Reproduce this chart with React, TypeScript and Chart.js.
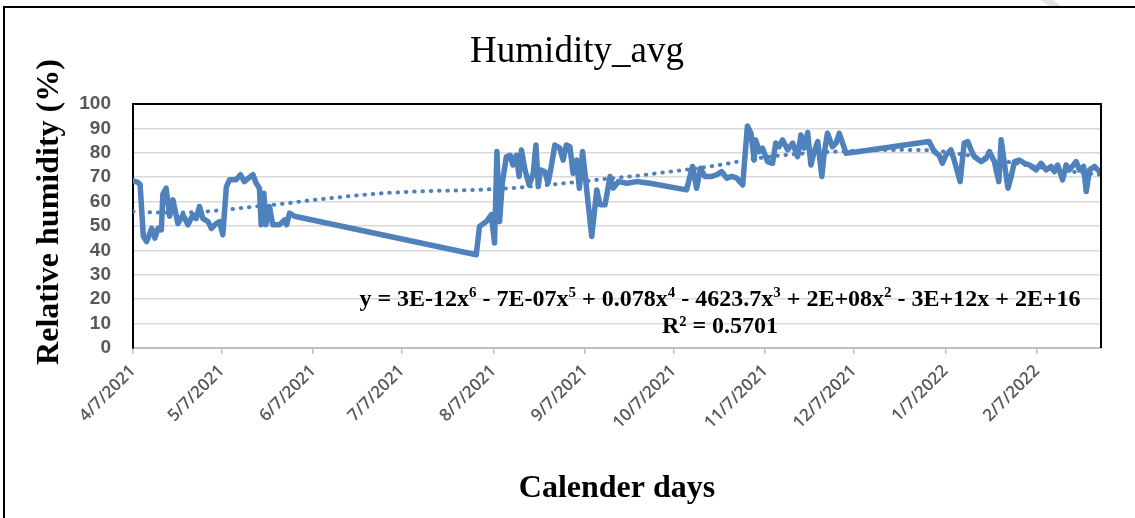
import React, { useEffect, useRef } from "react";
import { Chart, registerables } from "chart.js";

Chart.register(...registerables);

// Days since 4/7/2021
const dayOffsets = [
  0, 1.5, 2.4, 3.5, 4.6, 6.3, 7.4, 8.5, 9.6, 10.1, 11.2, 12.4, 13.5, 15.2, 16.9, 18.6, 20.3, 21.4, 22.5, 23.7,
  25.4, 26.5, 28.2, 29.3, 30.4, 31.6, 32.7, 34.9, 36.4, 37.7, 39, 40.6, 41.7, 42.8, 43.4, 44.3, 45, 46.2, 47.3,
  49.6, 51.3, 52, 53, 54.7, 116.2, 117.3, 119.6, 121.3, 122.4, 123.2, 124.1, 125, 126.4, 127.7, 128.6, 129.8,
  130.7, 131.5, 132.7, 134.1, 135.5, 136.4, 137.2, 137.9, 139.4, 140.5, 141.6, 142.8, 144.5, 145.6, 146.7, 147.9,
  149, 150.2, 151.1, 152.2, 153.6, 155.3, 157, 158.1, 159.8, 160.9, 161.5, 162.6, 164.3, 167.2, 170.5, 175,
  187.4, 189.4, 190.8, 192.1, 193.6, 195.9, 197.6, 199.3, 201, 202.7, 204.4, 206.4, 208, 209.2, 210.3, 210.8,
  212, 213.1, 214.8, 216.5, 217.6, 218.7, 219.9, 221.6, 223.3, 225, 226.1, 227.2, 228.4, 229.5, 230.6, 231.8,
  233.2, 234, 235.1, 236.8, 238, 239.1, 241.4, 245.9, 269.5, 271.2, 272.9, 274, 275.2, 276.9, 278, 280, 281.4,
  282.6, 283.7, 284.8, 287.1, 288.8, 289.9, 291.6, 293.1, 293.9, 295, 296.2, 297.3, 298.4, 300.1, 301.8, 303.5,
  305.7, 307.4, 309.1, 310.8, 311.9, 313, 314.7, 315.9, 317, 319.3, 320.4, 321.8, 322.7, 323.8, 325.5, 326.6, 327.7,
];

const humidity = [
  68.5, 68, 67, 45.7, 43.6, 49, 45, 49, 48.4, 63, 65.5, 54, 60.7, 51, 54.6, 50.5, 54.6, 53, 58, 53,
  51.8, 49, 51, 51.8, 46.4, 66, 69, 69, 71, 68.2, 69.5, 71, 67.5, 65.5, 50.5, 63.4, 50.5, 58, 50.5,
  50.5, 52.5, 50.5, 55.3, 54, 38.2, 49.8, 51.8, 54.6, 43, 80.5, 51.8, 67.5, 78.4, 79, 75, 79,
  70.3, 81.2, 73, 66.8, 71.6, 83.2, 66.2, 73, 72.3, 67.5, 74.4, 83.2, 81.9, 77, 83.2, 82.5,
  71.6, 77, 65.5, 80.5, 64.8, 45.7, 64.8, 58.7, 58.7, 66.2, 70.3, 65.5, 68.2, 67.5, 68.2, 67.5,
  64.8, 74.4, 65.5, 73.7, 70.3, 70.3, 71, 72.3, 69.6, 70.3, 69.6, 66.8, 91, 88, 77, 85.3,
  80.5, 81.9, 76.4, 75.7, 84, 82.5, 85.3, 81.2, 84, 78.4, 87.3, 81.9, 88.3, 75, 80.5, 84.6,
  70.3, 79.8, 88, 82.5, 84, 88, 79.8, 80.5, 84.6, 80.5, 79, 75.7, 79, 81.2, 77, 68.2, 84,
  84.6, 81.2, 78.4, 76.4, 77.7, 80.5, 76.4, 68.2, 85.3, 75.7, 65.5, 70.3, 76.4, 77, 75.7, 75,
  73, 75.7, 73, 74.4, 72.3, 75, 68.9, 75, 73, 76.4, 73, 74.4, 64.1, 73, 74.4, 73, 71.6,
];

// Polynomial trendline
const trendDays = [0, 10, 20, 30, 40, 50, 60, 70, 80, 90, 100, 110, 120, 130, 140, 150, 160, 170, 180, 190, 200,
  210, 220, 230, 240, 250, 260, 270, 280, 290, 300, 310, 320, 327.7];
const trendValues = [56, 55.5, 55.6, 56.5, 57.8, 59, 60.5, 61.8, 63, 63.8, 64.3, 64.6, 65, 65.7, 66.8, 68, 69.3,
  70.5, 72, 73.5, 75.3, 77.5, 79, 80, 80.6, 81, 81.2, 81, 79.5, 77.5, 75.5, 73.5, 72, 71];

const monthTickDays = [0, 30, 61, 91, 122, 153, 183, 214, 244, 275, 306];
const monthTickLabels = ["4/7/2021", "5/7/2021", "6/7/2021", "7/7/2021", "8/7/2021", "9/7/2021",
  "10/7/2021", "11/7/2021", "12/7/2021", "1/7/2022", "2/7/2022"];

const chartTitle = "Humidity_avg";
const yTitle = "Relative humidity (%)";
const xTitle = "Calender days";
const eqSegments: [string, boolean][] = [
  ["y = 3E-12x", false], ["6", true], [" - 7E-07x", false], ["5", true], [" + 0.078x", false], ["4", true],
  [" - 4623.7x", false], ["3", true], [" + 2E+08x", false], ["2", true], [" - 3E+12x + 2E+16", false],
];
const r2Text = "R² = 0.5701";

const LINE_COLOR = "#4F81BD";

const decorPlugin = {
  id: "decor",
  beforeDraw(chart: any) {
    const ctx = chart.ctx as CanvasRenderingContext2D;
    ctx.save();
    ctx.fillStyle = "#ffffff";
    ctx.fillRect(0, 0, chart.width, chart.height);
    // faint watermark piece
    ctx.fillStyle = "#e3e3e3";
    ctx.beginPath();
    ctx.moveTo(1040, 0);
    ctx.lineTo(1053, 0);
    ctx.lineTo(1061, 6);
    ctx.lineTo(1049, 6);
    ctx.closePath();
    ctx.fill();
    // outer frame
    ctx.strokeStyle = "#000";
    ctx.lineWidth = 2;
    ctx.beginPath();
    ctx.moveTo(4, chart.height + 2);
    ctx.lineTo(4, 7);
    ctx.lineTo(chart.width + 2, 7);
    ctx.stroke();
    ctx.restore();
  },
  afterDraw(chart: any) {
    const ctx = chart.ctx as CanvasRenderingContext2D;
    const a = chart.chartArea;
    ctx.save();
    // plot frame top/right
    ctx.strokeStyle = "#000";
    ctx.lineWidth = 2;
    ctx.beginPath();
    ctx.moveTo(a.left, a.top);
    ctx.lineTo(a.right, a.top);
    ctx.lineTo(a.right, a.bottom);
    ctx.stroke();

    ctx.fillStyle = "#000";
    // chart title
    ctx.font = "37px 'Liberation Serif'";
    ctx.textAlign = "center";
    ctx.textBaseline = "alphabetic";
    ctx.fillText(chartTitle, 577, 62);

    // x title
    ctx.font = "bold 32px 'Liberation Serif'";
    ctx.fillText(xTitle, (a.left + a.right) / 2, 497);

    // y title
    ctx.save();
    ctx.translate(50, 212);
    ctx.rotate(-Math.PI / 2);
    ctx.textBaseline = "middle";
    ctx.fillText(yTitle, 0, 0);
    ctx.restore();

    // equation
    const cx = 720;
    const mainFont = "bold 24px 'Liberation Serif'";
    const supFont = "bold 15px 'Liberation Serif'";
    let total = 0;
    for (const [t, sup] of eqSegments) {
      ctx.font = sup ? supFont : mainFont;
      total += ctx.measureText(t).width;
    }
    let x = cx - total / 2;
    ctx.textAlign = "left";
    for (const [t, sup] of eqSegments) {
      ctx.font = sup ? supFont : mainFont;
      ctx.fillText(t, x, sup ? 297 : 306);
      x += ctx.measureText(t).width;
    }
    ctx.font = mainFont;
    ctx.textAlign = "center";
    ctx.fillText(r2Text, cx, 333);
    ctx.restore();
  },
};

export default function App() {
  const canvasRef = useRef<HTMLCanvasElement | null>(null);

  useEffect(() => {
    if (!canvasRef.current) return;
    const mainData = dayOffsets.map((d, i) => ({ x: d, y: humidity[i] }));
    const trendData = trendDays.map((d, i) => ({ x: d, y: trendValues[i] }));
    const chart = new Chart(canvasRef.current, {
      type: "line",
      data: {
        datasets: [
          {
            data: mainData,
            borderColor: LINE_COLOR,
            borderWidth: 5.5,
            pointRadius: 0,
            tension: 0,
            borderJoinStyle: "round",
            borderCapStyle: "round",
          },
          {
            data: trendData,
            borderColor: LINE_COLOR,
            borderWidth: 4,
            pointRadius: 0,
            tension: 0.4,
            cubicInterpolationMode: "monotone",
            borderDash: [0.5, 7.8],
            borderCapStyle: "round",
          },
        ],
      },
      options: {
        responsive: false,
        animation: false,
        layout: { padding: { top: 104, right: 34, left: 0, bottom: 0 } },
        plugins: {
          legend: { display: false },
          tooltip: { enabled: false },
          title: { display: false },
        },
        scales: {
          x: {
            type: "linear",
            min: 0,
            max: 327.7,
            afterBuildTicks: (s: any) => {
              s.ticks = monthTickDays.map((value) => ({ value }));
            },
            afterFit: (s: any) => {
              s.height = 170;
            },
            ticks: {
              autoSkip: false,
              minRotation: 45,
              maxRotation: 45,
              padding: 7,
              color: "#595959",
              font: { family: "'Open Sans'", size: 17, weight: "600" },
              callback: (v: any) => {
                const i = monthTickDays.indexOf(Number(v));
                return i >= 0 ? monthTickLabels[i] : "";
              },
            },
            grid: {
              drawOnChartArea: false,
              drawTicks: true,
              tickLength: 6,
              color: "#BFBFBF",
              lineWidth: 1.5,
            },
            border: { color: "#BFBFBF", width: 2 },
          },
          y: {
            min: 0,
            max: 100,
            afterFit: (s: any) => {
              s.width = 133;
            },
            ticks: {
              stepSize: 10,
              autoSkip: false,
              padding: 22,
              color: "#595959",
              font: { family: "'Liberation Sans'", size: 19, weight: "bold" },
            },
            grid: { color: "#D9D9D9", lineWidth: 1.5, drawTicks: false },
            border: { color: "#000", width: 2 },
          },
        },
      },
      plugins: [decorPlugin],
    } as any);
    return () => chart.destroy();
  }, []);

  return (
    <div style={{ position: "fixed", left: 0, top: 0, width: 1135, height: 518, background: "#fff" }}>
      <canvas ref={canvasRef} width={1135} height={518} style={{ display: "block" }} />
    </div>
  );
}
